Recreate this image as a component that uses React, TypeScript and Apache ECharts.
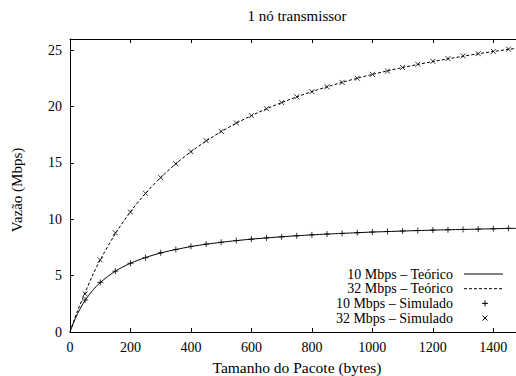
import React, { useEffect, useRef } from "react";
import * as echarts from "echarts";

const TITLE = "1 nó transmissor";
const X_TITLE = "Tamanho do Pacote (bytes)";
const Y_TITLE = "Vazão (Mbps)";
const LEGEND = ["10 Mbps – Teórico", "32 Mbps – Teórico", "10 Mbps – Simulado", "32 Mbps – Simulado"];

const X_LINE = [0, 10, 25, 50, 75, 100, 150, 200, 250, 300, 350, 400, 450, 500, 550, 600, 650, 700, 750, 800, 850, 900, 950, 1000, 1050, 1100, 1150, 1200, 1250, 1300, 1350, 1400, 1450, 1475];
const TEO_10 = [0, 0.72, 1.63, 2.81, 3.69, 4.39, 5.4, 6.1, 6.61, 7.01, 7.32, 7.58, 7.79, 7.96, 8.11, 8.24, 8.35, 8.45, 8.54, 8.62, 8.69, 8.75, 8.81, 8.87, 8.91, 8.96, 9.0, 9.04, 9.07, 9.1, 9.13, 9.16, 9.19, 9.2];
const TEO_32 = [0, 0.78, 1.88, 3.5, 5.05, 6.4, 8.73, 10.67, 12.31, 13.71, 14.93, 16.0, 16.94, 17.78, 18.53, 19.2, 19.81, 20.36, 20.87, 21.33, 21.76, 22.15, 22.52, 22.86, 23.17, 23.47, 23.74, 24.0, 24.24, 24.47, 24.69, 24.89, 25.08, 25.17];

const X_SIM = [50, 100, 150, 200, 250, 300, 350, 400, 450, 500, 550, 600, 650, 700, 750, 800, 850, 900, 950, 1000, 1050, 1100, 1150, 1200, 1250, 1300, 1350, 1400, 1450];
const SIM_10 = [2.84, 4.4, 5.4, 6.1, 6.6, 7.03, 7.32, 7.6, 7.8, 7.96, 8.11, 8.24, 8.35, 8.45, 8.54, 8.62, 8.69, 8.75, 8.81, 8.87, 8.92, 8.96, 9.0, 9.04, 9.07, 9.1, 9.13, 9.16, 9.2];
const SIM_32 = [3.38, 6.4, 8.8, 10.64, 12.3, 13.7, 14.93, 16.0, 16.98, 17.8, 18.55, 19.2, 19.81, 20.36, 20.87, 21.33, 21.76, 22.15, 22.52, 22.86, 23.15, 23.47, 23.76, 24.02, 24.26, 24.5, 24.7, 24.9, 25.1];

const X_MAX = 1475;
const Y_MAX = 26;

const FONT = "Liberation Serif";
const PLUS = "path://M0,5L10,5M5,0L5,10";
const CROSS = "path://M0,0L10,10M10,0L0,10";

export default function App() {
  const ref = useRef<HTMLDivElement>(null);
  useEffect(() => {
    if (!ref.current) return;
    const chart = echarts.init(ref.current, undefined, { renderer: "svg" });
    const pair = (xs: number[], ys: number[]) => xs.map((x, i) => [x, ys[i]]);
    const labelStyle = { color: "#000", fontFamily: FONT, fontSize: 14 };
    const txt = (text: string, x: number, y: number, align: string, size: number, extra: any = {}) => ({
      type: "text",
      x,
      y,
      ...extra,
      style: { text, fill: "#000", fontFamily: FONT, fontSize: size, align, verticalAlign: "middle" },
    });
    const legX = 453;
    const legY = [274, 288.7, 303.4, 318];
    const legendGraphics: any[] = [];
    LEGEND.forEach((t, i) => legendGraphics.push(txt(t, legX, legY[i], "right", 14)));
    legendGraphics.push({ type: "line", shape: { x1: 464, y1: legY[0], x2: 503, y2: legY[0] }, style: { stroke: "#000", lineWidth: 1 } });
    legendGraphics.push({ type: "line", shape: { x1: 464, y1: legY[1], x2: 503, y2: legY[1] }, style: { stroke: "#000", lineWidth: 1, lineDash: [3, 2] } });
    legendGraphics.push({ type: "line", shape: { x1: 482, y1: legY[2], x2: 488, y2: legY[2] }, style: { stroke: "#000", lineWidth: 1 } });
    legendGraphics.push({ type: "line", shape: { x1: 485, y1: legY[2] - 3, x2: 485, y2: legY[2] + 3 }, style: { stroke: "#000", lineWidth: 1 } });
    legendGraphics.push({ type: "line", shape: { x1: 482.5, y1: legY[3] - 2.5, x2: 487.5, y2: legY[3] + 2.5 }, style: { stroke: "#000", lineWidth: 1 } });
    legendGraphics.push({ type: "line", shape: { x1: 487.5, y1: legY[3] - 2.5, x2: 482.5, y2: legY[3] + 2.5 }, style: { stroke: "#000", lineWidth: 1 } });

    chart.setOption({
      animation: false,
      backgroundColor: "#fff",
      textStyle: { fontFamily: FONT },
      grid: { left: 70, right: 0, top: 39, bottom: 44, containLabel: false },
      xAxis: [
        {
          type: "value",
          min: 0,
          max: X_MAX,
          interval: 200,
          position: "bottom",
          axisLine: { show: true, lineStyle: { color: "#000", width: 1 } },
          axisTick: { show: true, inside: true, length: 4, lineStyle: { color: "#000" } },
          axisLabel: {
            ...labelStyle,
            margin: 8,
            showMaxLabel: false,
            formatter: (v: number) => (v % 200 === 0 ? String(v) : ""),
          },
          splitLine: { show: false },
        },
        {
          type: "value",
          min: 0,
          max: X_MAX,
          interval: 200,
          position: "top",
          axisLine: { show: true, onZero: false, lineStyle: { color: "#000", width: 1 } },
          axisTick: { show: true, inside: true, length: 4, lineStyle: { color: "#000" } },
          axisLabel: { show: false },
          splitLine: { show: false },
        },
      ],
      yAxis: {
        type: "value",
        min: 0,
        max: Y_MAX,
        interval: 5,
        axisLine: { show: true, lineStyle: { color: "#000", width: 1 } },
        axisTick: { show: true, inside: true, length: 4, lineStyle: { color: "#000" } },
        axisLabel: { ...labelStyle, margin: 8, showMaxLabel: false, formatter: (v: number) => (v % 5 === 0 ? String(v) : "") },
        splitLine: { show: false },
      },
      series: [
        {
          name: LEGEND[0],
          type: "line",
          data: pair(X_LINE, TEO_10),
          smooth: 0.3,
          symbol: "none",
          lineStyle: { color: "#000", width: 1 },
          z: 2,
        },
        {
          name: LEGEND[1],
          type: "line",
          data: pair(X_LINE, TEO_32),
          smooth: 0.3,
          symbol: "none",
          lineStyle: { color: "#000", width: 1, type: [3, 2] },
          z: 2,
        },
        {
          name: LEGEND[2],
          type: "scatter",
          data: pair(X_SIM, SIM_10),
          symbol: PLUS,
          symbolSize: 6,
          itemStyle: { color: "none", borderColor: "#000", borderWidth: 1 },
          z: 3,
        },
        {
          name: LEGEND[3],
          type: "scatter",
          data: pair(X_SIM, SIM_32),
          symbol: CROSS,
          symbolSize: 5,
          itemStyle: { color: "none", borderColor: "#000", borderWidth: 1 },
          z: 3,
        },
      ],
      graphic: [
        txt(TITLE, 297, 16, "center", 15),
        txt(X_TITLE, 297, 367.5, "center", 15.5),
        txt(Y_TITLE, 16.5, 190, "center", 15, { rotation: Math.PI / 2 }),
        ...legendGraphics,
      ],
    });
    return () => chart.dispose();
  }, []);
  return <div ref={ref} style={{ width: 516, height: 376, position: "absolute", left: 0, top: 0 }} />;
}
